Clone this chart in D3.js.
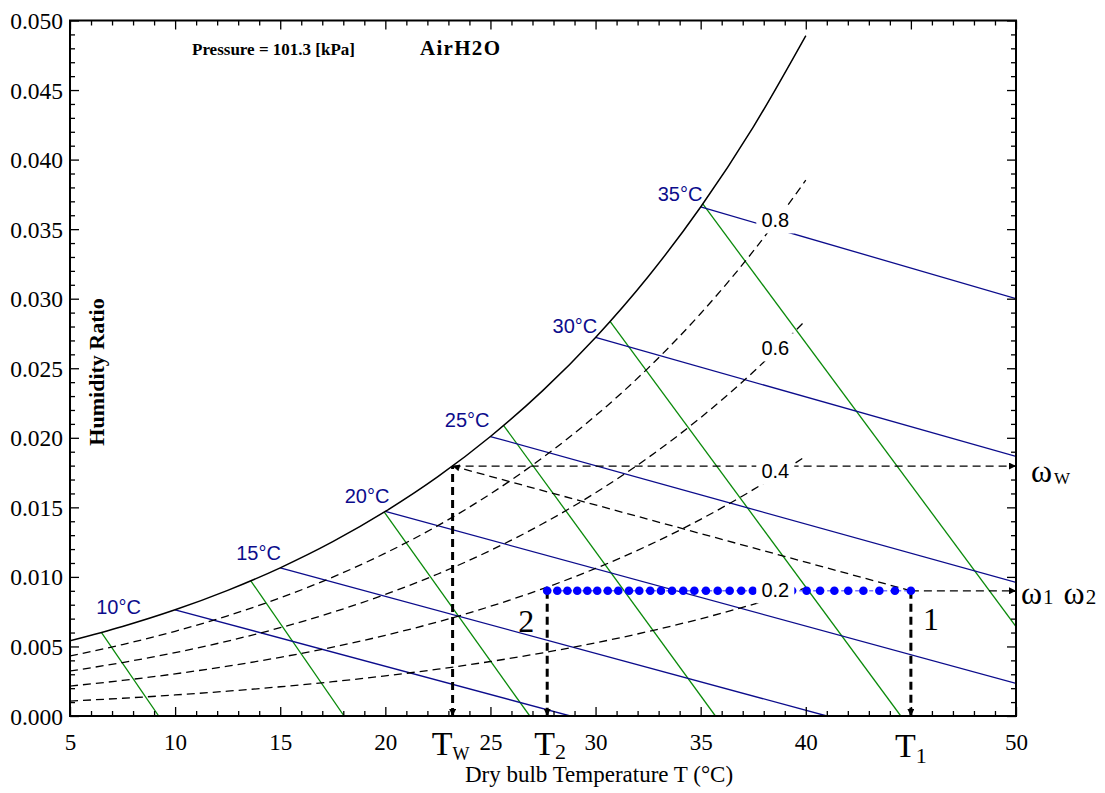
<!DOCTYPE html>
<html>
<head>
<meta charset="utf-8">
<script src="https://cdn.jsdelivr.net/npm/d3@7"></script>
<style>
  html, body { margin: 0; padding: 0; background: #fff; }
  svg { display: block; }
</style>
</head>
<body>
<svg id="chart" width="1105" height="793"></svg>
<script>
// ---------------- DATA ----------------
const gridT = [5, 7.5, 10, 12.5, 15, 17.5, 20, 22.5, 25, 27.5, 30, 32.5, 35, 37.5, 40];
const satW  = [0.005404, 0.006435, 0.007634, 0.009031, 0.010653, 0.012530, 0.014703, 0.017201, 0.020092, 0.023408, 0.027216, 0.031581, 0.036594, 0.042338, 0.048906];
const rh08W = [0.004316, 0.005137, 0.006092, 0.007204, 0.008493, 0.009984, 0.011707, 0.013685, 0.015970, 0.018587, 0.021584, 0.025011, 0.028935, 0.033416, 0.038520];
const rh06W = [0.003231, 0.003845, 0.004558, 0.005387, 0.006348, 0.007458, 0.008739, 0.010208, 0.011901, 0.013836, 0.016049, 0.018571, 0.021452, 0.024729, 0.028449];
const rh04W = [0.002150, 0.002558, 0.003031, 0.003581, 0.004218, 0.004952, 0.005799, 0.006768, 0.007884, 0.009157, 0.010608, 0.012259, 0.014139, 0.016271, 0.018681];
const rh02W = [0.001073, 0.001276, 0.001512, 0.001785, 0.002102, 0.002466, 0.002886, 0.003366, 0.003917, 0.004545, 0.005259, 0.006070, 0.006990, 0.008030, 0.009203];
const rhLabels = ["0.8", "0.6", "0.4", "0.2"];
const rhLabelT = [38.55, 38.55, 38.55, 38.55];
const rhLabelW = [0.0357, 0.0265, 0.01765, 0.0091];

// wet-bulb lines (blue)
const wbLabels = ["10°C", "15°C", "20°C", "25°C", "30°C", "35°C"];
const wbStartT = [10, 15, 20, 25, 30, 35];
const wbStartW = [0.007634, 0.010653, 0.014703, 0.020092, 0.027216, 0.036594];
const wbEndT   = [28.8, 41.0, 50, 50, 50, 50];
const wbEndW   = [0, 0, 0.00235, 0.00961, 0.01866, 0.03001];
const wbLabelT = [7.31, 13.97, 19.13, 23.89, 29.02, 34.02];
const wbLabelW = [0.00733, 0.01121, 0.01531, 0.02078, 0.02753, 0.03702];

// specific-volume lines (green)
const svStartT = [6.5, 13.6, 19.95, 25.62, 30.69, 35.1];
const svStartW = [0.0060, 0.00972, 0.01465, 0.0209, 0.02837, 0.03681];
const svEndT   = [9.22, 18.04, 26.87, 35.70, 44.52, 50];
const svEndW   = [0, 0, 0, 0, 0, 0.00643];

// process states: 1, 2, wet-bulb
const stateNames = ["1", "2", "w"];
const stateT = [45, 27.7, 23.2];
const stateW = [0.009, 0.009, 0.01797];
const processDotsT = [27.70, 28.18, 28.66, 29.13, 29.61, 30.08, 30.58, 31.08, 31.59, 32.08, 32.60, 33.11, 33.64, 34.17, 34.70, 35.25, 35.81, 36.38, 36.93, 37.48, 38.06, 38.68, 39.35, 40.04, 40.68, 41.36, 42.02, 42.74, 43.50, 44.24, 45.0];

const xTickLabels = [5, 10, 15, 20, 25, 30, 35, 40, 50];
const xMajorTicks = [5, 10, 15, 20, 25, 30, 35, 40, 45, 50];
const yMajorTicks = [0, 0.005, 0.010, 0.015, 0.020, 0.025, 0.030, 0.035, 0.040, 0.045, 0.050];

// ---------------- CHART ----------------
const svg = d3.select("#chart");
const L = 70, R = 1016, T = 20.5, B = 716;
const x = d3.scaleLinear().domain([5, 50]).range([L, R]);
const y = d3.scaleLinear().domain([0, 0.05]).range([B, T]);
const serif = "'Liberation Serif', 'Times New Roman', serif";
const sans = "'Liberation Sans', Arial, sans-serif";

const defs = svg.append("defs");
defs.append("clipPath").attr("id", "plotclip").append("rect")
  .attr("x", L).attr("y", T).attr("width", R - L).attr("height", B - T);
function mk(id, w, h) {
  defs.append("marker").attr("id", id).attr("viewBox", "0 0 10 10")
    .attr("refX", 10).attr("refY", 5).attr("markerWidth", w).attr("markerHeight", h)
    .attr("markerUnits", "userSpaceOnUse").attr("orient", "auto")
    .append("path").attr("d", "M0,0 L10,5 L0,10 z").attr("fill", "#000");
}
mk("arr", 10, 7);
mk("arrS", 8, 7);

const plot = svg.append("g").attr("clip-path", "url(#plotclip)");
const line = d3.line().x(d => x(d[0])).y(d => y(d[1])).curve(d3.curveMonotoneX);

// green specific-volume lines
svStartT.forEach((t, i) => {
  plot.append("line")
    .attr("x1", x(t)).attr("y1", y(svStartW[i]))
    .attr("x2", x(svEndT[i])).attr("y2", y(svEndW[i]))
    .attr("stroke", "#0a8a0a").attr("stroke-width", 1.3);
});
// blue wet-bulb lines
wbStartT.forEach((t, i) => {
  plot.append("line")
    .attr("x1", x(t)).attr("y1", y(wbStartW[i]))
    .attr("x2", x(wbEndT[i])).attr("y2", y(wbEndW[i]))
    .attr("stroke", "#0c0c8c").attr("stroke-width", 1.3);
});
// RH dashed curves
[rh08W, rh06W, rh04W, rh02W].forEach(arr => {
  plot.append("path").datum(gridT.map((t, i) => [t, arr[i]]))
    .attr("d", line).attr("fill", "none").attr("stroke", "#000")
    .attr("stroke-width", 1.3).attr("stroke-dasharray", "8,5");
});
// saturation curve
plot.append("path").datum(gridT.map((t, i) => [t, satW[i]]))
  .attr("d", line).attr("fill", "none").attr("stroke", "#000").attr("stroke-width", 1.5);

// process lines
const P1 = [stateT[0], stateW[0]], P2 = [stateT[1], stateW[1]], PW = [stateT[2], stateW[2]];
function seg(a, b, opts) {
  const l = svg.append("line")
    .attr("x1", x(a[0])).attr("y1", y(a[1])).attr("x2", x(b[0])).attr("y2", y(b[1]))
    .attr("stroke", opts.color || "#000").attr("stroke-width", opts.w || 1.3)
    .attr("stroke-dasharray", opts.dash || null);
  if (opts.end) l.attr("marker-end", `url(#${opts.end})`);
  if (opts.start) l.attr("marker-start", `url(#${opts.start})`);
  return l;
}
seg(P1, PW, { dash: "8,5", end: "arr" });
seg(PW, [50, PW[1]], { dash: "8,5", end: "arr" });
seg(P1, [50, P1[1]], { dash: "8,5", end: "arr" });
seg([PW[0], 0], PW, { w: 3, dash: "8,5" });
seg([PW[0], 0.0003], [PW[0], 0], { w: 1, end: "arrS" });
seg([P2[0], P2[1]], [P2[0], 0], { w: 3, dash: "8,5" });
seg([P2[0], 0.0003], [P2[0], 0], { w: 1, end: "arrS" });
seg([P1[0], P1[1]], [P1[0], 0], { w: 3, dash: "8,5" });
seg([P1[0], 0.0003], [P1[0], 0], { w: 1, end: "arrS" });
// blue dotted process 2-1
seg(P2, P1, { color: "#7777ff", w: 1.5, dash: "4,3" });
svg.append("g").selectAll("circle").data(processDotsT).join("circle")
  .attr("cx", d => x(d)).attr("cy", y(stateW[0])).attr("r", 4.3).attr("fill", "#0000ff");

// RH labels with white background
rhLabels.forEach((s, i) => {
  const cx = x(rhLabelT[i]), cy = y(rhLabelW[i]);
  svg.append("rect").attr("x", cx - 19).attr("y", cy - 14).attr("width", 38).attr("height", 28).attr("fill", "#fff");
  svg.append("text").attr("x", cx).attr("y", cy + 7.5).attr("text-anchor", "middle")
    .attr("font-family", sans).attr("font-size", 20).attr("fill", "#000").text(s);
});
// wet-bulb temperature labels
wbLabels.forEach((s, i) => {
  svg.append("text").attr("x", x(wbLabelT[i])).attr("y", y(wbLabelW[i])).attr("text-anchor", "middle")
    .attr("font-family", sans).attr("font-size", 20).attr("fill", "#0c0c8c").text(s);
});

// ---------------- AXES ----------------
function styleAxis(g) {
  g.select(".domain").remove();
  g.selectAll(".tick line").attr("stroke", "#000").attr("stroke-width", 1.3);
}
const xMinor = d3.range(5, 51).filter(v => v % 5 !== 0);
const yMinor = d3.range(0, 51).filter(v => v % 5 !== 0).map(v => v / 1000);

svg.append("g").attr("transform", `translate(0,${B})`)
  .call(d3.axisBottom(x).tickValues(xMinor).tickSize(-5).tickFormat("")).call(styleAxis);
const gxb = svg.append("g").attr("transform", `translate(0,${B})`)
  .call(d3.axisBottom(x).tickValues(xMajorTicks).tickSize(-9)
    .tickFormat(d => xTickLabels.includes(d) ? String(d) : "")).call(styleAxis);
gxb.selectAll("text").attr("y", 34).attr("dy", 0).attr("font-family", serif)
  .attr("font-size", 23).attr("fill", "#000");

svg.append("g").attr("transform", `translate(0,${T})`)
  .call(d3.axisTop(x).tickValues(xMinor).tickSize(-5).tickFormat("")).call(styleAxis);
svg.append("g").attr("transform", `translate(0,${T})`)
  .call(d3.axisTop(x).tickValues(xMajorTicks).tickSize(-9).tickFormat("")).call(styleAxis);

svg.append("g").attr("transform", `translate(${L},0)`)
  .call(d3.axisLeft(y).tickValues(yMinor).tickSize(-5).tickFormat("")).call(styleAxis);
const gyl = svg.append("g").attr("transform", `translate(${L},0)`)
  .call(d3.axisLeft(y).tickValues(yMajorTicks).tickSize(-9).tickFormat(d3.format(".3f"))).call(styleAxis);
gyl.selectAll("text").attr("x", -7).attr("dy", "0.34em").attr("font-family", serif)
  .attr("font-size", 23.5).attr("fill", "#000");

svg.append("g").attr("transform", `translate(${R},0)`)
  .call(d3.axisRight(y).tickValues(yMinor).tickSize(-5).tickFormat("")).call(styleAxis);
svg.append("g").attr("transform", `translate(${R},0)`)
  .call(d3.axisRight(y).tickValues(yMajorTicks).tickSize(-9).tickFormat("")).call(styleAxis);

svg.append("rect").attr("x", L).attr("y", T).attr("width", R - L).attr("height", B - T)
  .attr("fill", "none").attr("stroke", "#000").attr("stroke-width", 2);

// ---------------- TEXT ----------------
svg.append("text").attr("x", 192).attr("y", 55).attr("font-family", serif).attr("font-weight", "bold")
  .attr("font-size", 17).text("Pressure = 101.3 [kPa]");
svg.append("text").attr("x", 420).attr("y", 55).attr("font-family", serif).attr("font-weight", "bold")
  .attr("font-size", 21).attr("letter-spacing", 1.3).text("AirH2O");

svg.append("text").attr("transform", `translate(104,372) rotate(-90)`).attr("text-anchor", "middle")
  .attr("font-family", serif).attr("font-weight", "bold").attr("font-size", 22).text("Humidity Ratio");
svg.append("text").attr("x", 599).attr("y", 782).attr("text-anchor", "middle")
  .attr("font-family", serif).attr("font-size", 23).text("Dry bulb Temperature T (°C)");

// T labels under axis
function subLabel(cx, by, main, sub, mainSize, subSize, dy) {
  const t = svg.append("text").attr("x", cx).attr("y", by).attr("text-anchor", "middle")
    .attr("font-family", serif).attr("font-size", mainSize).attr("fill", "#000");
  t.append("tspan").text(main);
  t.append("tspan").attr("font-size", subSize).attr("dy", dy).text(sub);
}
subLabel(x(stateT[2]) - 2, 755, "T", "W", 34, 18, 5);
subLabel(x(stateT[1]) + 3, 755, "T", "2", 34, 22, 4);
subLabel(x(stateT[0]), 757, "T", "1", 34, 22, 6);

// omega labels at right
const wW = svg.append("text").attr("x", 1031).attr("y", 482).attr("font-family", serif).attr("font-size", 32);
wW.append("tspan").text("ω");
wW.append("tspan").attr("font-size", 17).attr("dx", 2).attr("dy", 2).text("W");
const w12 = svg.append("text").attr("x", 1021).attr("y", 604).attr("font-family", serif).attr("font-size", 32);
w12.append("tspan").text("ω");
w12.append("tspan").attr("font-size", 21).attr("dx", 1).text("1");
w12.append("tspan").attr("font-size", 32).attr("dx", 10).text("ω");
w12.append("tspan").attr("font-size", 21).attr("dx", 1).text("2");

// state numbers
svg.append("text").attr("x", x(stateT[1]) - 21).attr("y", 632).attr("text-anchor", "middle")
  .attr("font-family", serif).attr("font-size", 32).text(stateNames[1]);
svg.append("text").attr("x", x(stateT[0]) + 20).attr("y", 630).attr("text-anchor", "middle")
  .attr("font-family", serif).attr("font-size", 32).text(stateNames[0]);
</script>
</body>
</html>
